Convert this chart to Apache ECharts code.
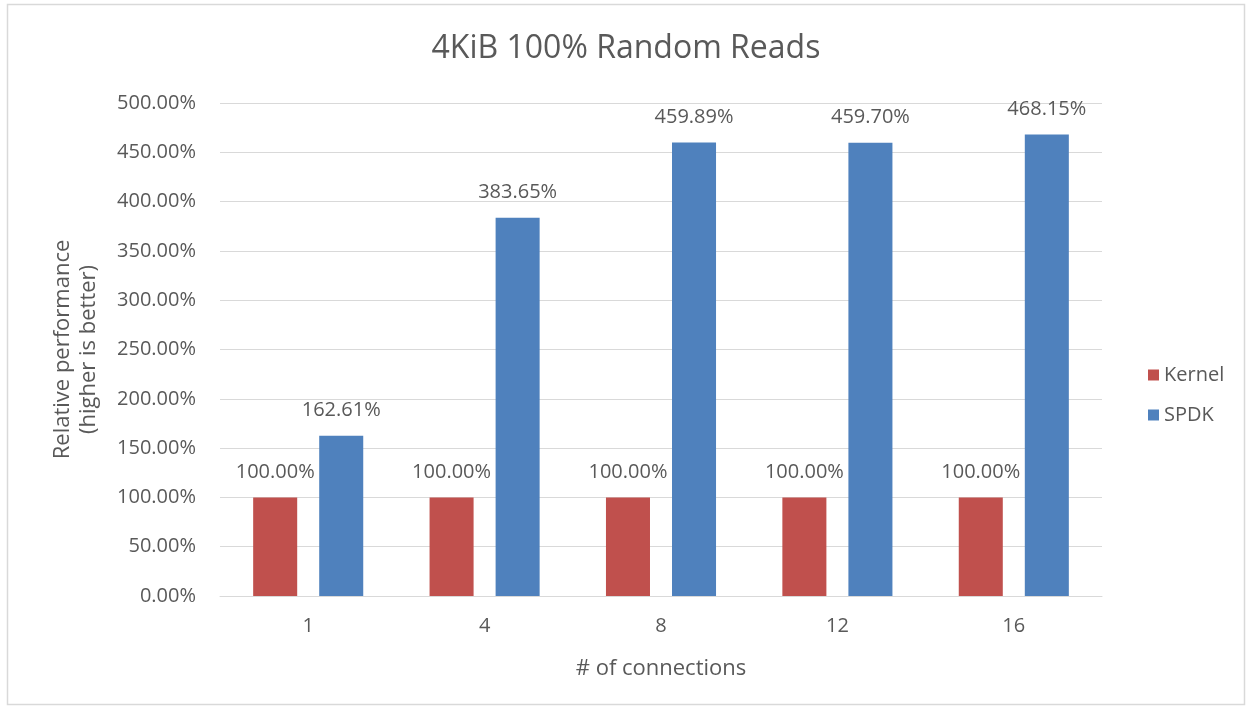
<!DOCTYPE html>
<html>
<head>
<meta charset="utf-8">
<script src="https://cdn.jsdelivr.net/npm/echarts@6/dist/echarts.min.js"></script>
<style>
    html, body { margin: 0; padding: 0; background: #fff; }
    #chart { width: 1252px; height: 713px; }
</style>
</head>
<body>
<div id="chart"></div>
<script>
// data
const connections = ['1', '4', '8', '12', '16'];
const kernelValues = [100.00, 100.00, 100.00, 100.00, 100.00];
const spdkValues = [162.61, 383.65, 459.89, 459.70, 468.15];

const textColor = '#595959';
const fontFamily = '"Open Sans", "Noto Sans", sans-serif';

const myChart = echarts.init(document.getElementById('chart'));

// label shared by both series
const barLabel = {
    show: true,
    position: 'top',
    distance: 15,
    color: textColor,
    fontSize: 20,
    formatter: (p) => p.value.toFixed(2) + '%'
};

const options = {
    backgroundColor: '#fff',
    textStyle: { fontFamily: fontFamily },
    title: {
        text: '4KiB 100% Random Reads',
        left: 'center',
        top: 28,
        textStyle: { color: textColor, fontSize: 32, fontWeight: 'normal', fontFamily: fontFamily }
    },
    legend: {
        orient: 'vertical',
        left: 1143,
        top: 360,
        itemWidth: 11,
        itemHeight: 11,
        itemGap: 20,
        icon: 'rect',
        textStyle: { color: textColor, fontSize: 20, fontFamily: fontFamily },
        data: ['Kernel', 'SPDK']
    },
    grid: {
        left: 220,
        right: 150,
        top: 103,
        bottom: 117
    },
    xAxis: {
        type: 'category',
        data: connections,
        name: '# of connections',
        nameLocation: 'middle',
        nameGap: 62,
        nameTextStyle: { color: textColor, fontSize: 22 },
        axisLine: { lineStyle: { color: '#d9d9d9', width: 1 } },
        axisTick: { show: false },
        axisLabel: { color: textColor, fontSize: 20, margin: 20 }
    },
    yAxis: {
        type: 'value',
        min: 0,
        max: 500,
        interval: 50,
        name: 'Relative performance\n(higher is better)',
        nameLocation: 'middle',
        nameGap: 118,
        nameRotate: 90,
        nameTextStyle: { color: textColor, fontSize: 22, lineHeight: 26 },
        axisLine: { show: false },
        axisTick: { show: false },
        axisLabel: {
            color: textColor,
            fontSize: 20,
            margin: 24,
            formatter: (v) => v.toFixed(2) + '%'
        },
        splitLine: { lineStyle: { color: '#d9d9d9', width: 1 } }
    },
    series: [
        {
            name: 'Kernel',
            type: 'bar',
            data: kernelValues,
            barGap: '50%',
            barCategoryGap: '37.6%',
            itemStyle: { color: '#C0504D' },
            label: barLabel
        },
        {
            name: 'SPDK',
            type: 'bar',
            data: spdkValues,
            barGap: '50%',
            barCategoryGap: '37.6%',
            itemStyle: { color: '#4F81BD' },
            label: barLabel
        }
    ],
    graphic: [
        {
            type: 'rect',
            shape: { x: 7.5, y: 4.5, width: 1237, height: 700 },
            style: { fill: null, stroke: '#d9d9d9', lineWidth: 1.5 },
            silent: true
        }
    ]
};

myChart.setOption(options);
</script>
</body>
</html>
